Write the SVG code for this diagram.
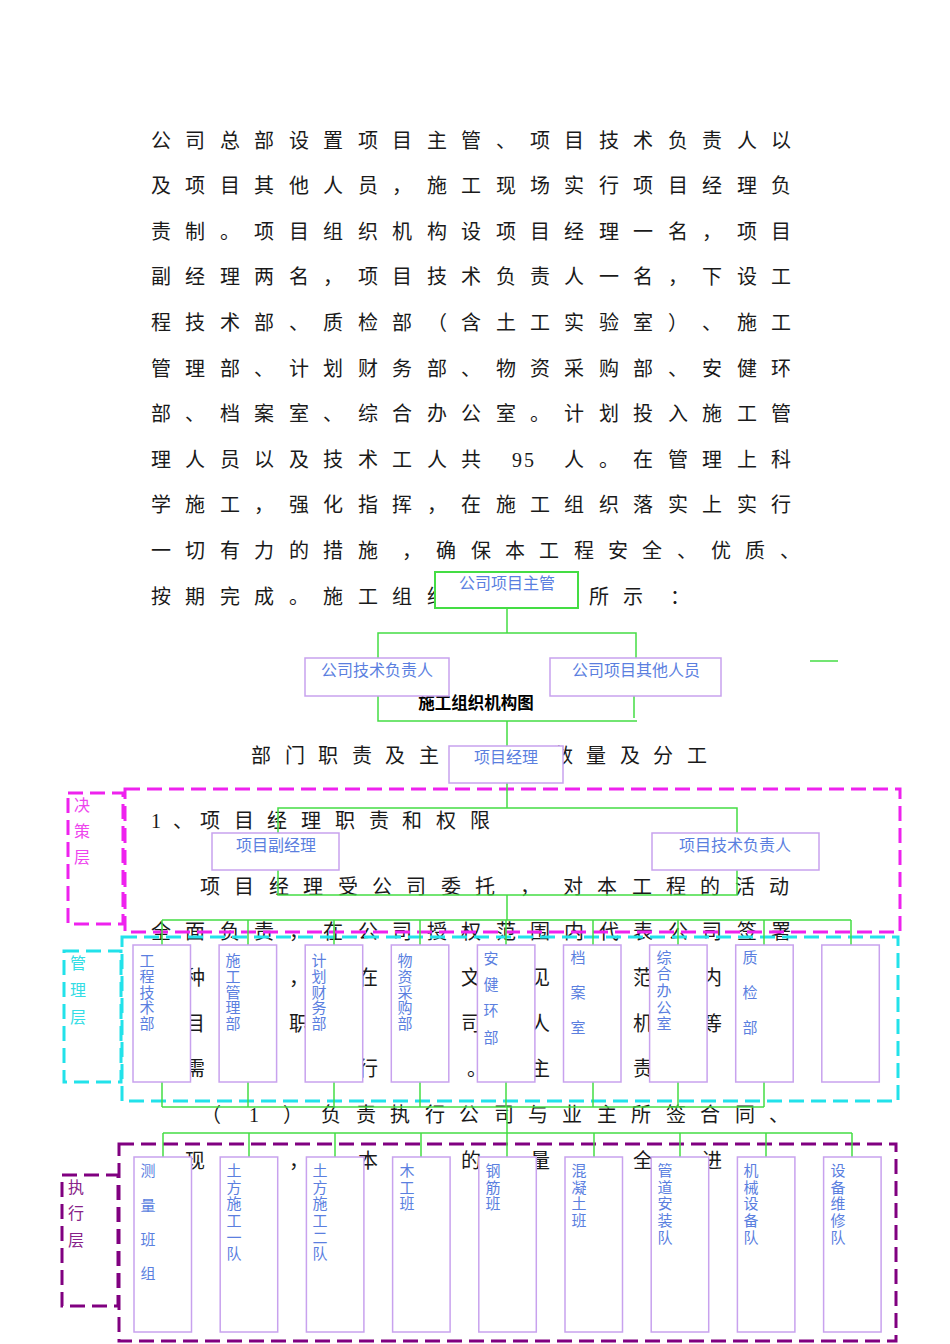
<svg xmlns="http://www.w3.org/2000/svg" width="950" height="1344" viewBox="0 0 950 1344">
<style>
.body{font-family:"Liberation Serif","Noto Sans CJK SC",serif;font-size:20px;fill:#1a1a1a;text-anchor:middle}
.lbl{font-family:"Noto Sans CJK SC",sans-serif;font-size:16px;fill:#5b7fdf;text-anchor:middle}
.vl{font-size:15px}
.title{font-family:"Noto Sans CJK SC",sans-serif;font-size:16.5px;font-weight:bold;fill:#000;text-anchor:middle}
.box{fill:#fff;stroke:#c8a2ee;stroke-width:1.5}
.gbox{fill:#fff;stroke:#44dd44;stroke-width:2}
.conn path{stroke:#44dd44;stroke-width:1.5;fill:none}
.mag{fill:none;stroke:#ee22ee;stroke-width:3;stroke-dasharray:15 7}
.cya{fill:none;stroke:#22e2ea;stroke-width:3;stroke-dasharray:15 7}
.pur{fill:none;stroke:#800080;stroke-width:3;stroke-dasharray:15 7}
.tmag{font-family:"Noto Sans CJK SC",sans-serif;font-size:16px;fill:#ee44ee;text-anchor:middle}
.tcya{font-family:"Noto Sans CJK SC",sans-serif;font-size:16px;fill:#33dde5;text-anchor:middle}
.tpur{font-family:"Noto Sans CJK SC",sans-serif;font-size:16px;fill:#882288;text-anchor:middle}
</style>
<rect width="950" height="1344" fill="#fff"/>

<g id="body-text">
<text class="body" x="161 195 230 264 299 333 368 402 437 471 506 540 574 609 643 678 712 747 781" y="147.5">公司总部设置项目主管、项目技术负责人以</text>
<text class="body" x="161 195 230 264 299 333 368 402 437 471 506 540 574 609 643 678 712 747 781" y="193">及项目其他人员，施工现场实行项目经理负</text>
<text class="body" x="161 195 230 264 299 333 368 402 437 471 506 540 574 609 643 678 712 747 781" y="238.5">责制。项目组织机构设项目经理一名，项目</text>
<text class="body" x="161 195 230 264 299 333 368 402 437 471 506 540 574 609 643 678 712 747 781" y="284">副经理两名，项目技术负责人一名，下设工</text>
<text class="body" x="161 195 230 264 299 333 368 402 437 471 506 540 574 609 643 678 712 747 781" y="330">程技术部、质检部（含土工实验室）、施工</text>
<text class="body" x="161 195 230 264 299 333 368 402 437 471 506 540 574 609 643 678 712 747 781" y="375.5">管理部、计划财务部、物资采购部、安健环</text>
<text class="body" x="161 195 230 264 299 333 368 402 437 471 506 540 574 609 643 678 712 747 781" y="421">部、档案室、综合办公室。计划投入施工管</text>
<text class="body" x="161 195 230 264 299 333 368 402 437 471 517 529 574 609 643 678 712 747 781" y="466.5">理人员以及技术工人共95人。在管理上科</text>
<text class="body" x="161 195 230 264 299 333 368 402 437 471 506 540 574 609 643 678 712 747 781" y="512">学施工，强化指挥，在施工组织落实上实行</text>
<text class="body" x="161 195 230 264 299 333 368 412 446 481 515 549 584 618 652 687 721 755 790" y="558">一切有力的措施，确保本工程安全、优质、</text>
<text class="body" x="161 195 230 264 299 333 368 402 437" y="603.5">按期完成。施工组织</text>
<text class="body" x="599 633 680" y="603.5">所示：</text>
<text class="body" x="261 295 328 362 395 429" y="763">部门职责及主</text>
<text class="body" x="563 596 630 663 697" y="763">数量及分工</text>
<text class="body" x="156 183 210 244 277 311 345 379 412 446 480" y="828">1、项目经理职责和权限</text>
<text class="body" x="210 244 279 313 348 382 416 451 485 530 573 607 642 676 710 745 779" y="894">项目经理受公司委托，对本工程的活动</text>
<text class="body" x="161 195 230 264 299 333 368 402 437 471 506 540 574 609 643 678 712 747 781" y="939">全面负责，在公司授权范围内代表公司签署</text>
<text class="body" x="195" y="985">种</text><text class="body" x="299" y="985">，</text><text class="body" x="368" y="985">在</text><text class="body" x="471" y="985">文</text><text class="body" x="540" y="985">见</text><text class="body" x="643" y="985">范</text><text class="body" x="712" y="985">内</text>
<text class="body" x="195" y="1031">目</text><text class="body" x="299" y="1031">职</text><text class="body" x="471" y="1031">司</text><text class="body" x="540" y="1031">人</text><text class="body" x="643" y="1031">机</text><text class="body" x="712" y="1031">等</text>
<text class="body" x="195" y="1076">需</text><text class="body" x="368" y="1076">行</text><text class="body" x="477" y="1076">。</text><text class="body" x="540" y="1076">主</text><text class="body" x="643" y="1076">责</text>
<text class="body" x="211 254 293 331 366 400 435 469 504 538 572 607 641 676 710 745 779" y="1122">（1）负责执行公司与业主所签合同、</text>
<text class="body" x="195" y="1168">现</text><text class="body" x="299" y="1168">，</text><text class="body" x="368" y="1168">本</text><text class="body" x="471" y="1168">的</text><text class="body" x="540" y="1168">量</text><text class="body" x="643" y="1168">全</text><text class="body" x="712" y="1168">进</text>
</g>

<g id="layers">
<rect class="mag" x="125" y="789" width="775" height="143"/>
<rect class="mag" x="68" y="793" width="55" height="131"/>
<text class="tmag" x="82 82 82" y="811 837 863">决策层</text>
<rect class="cya" x="122" y="937" width="776" height="164"/>
<rect class="cya" x="64" y="951" width="57" height="131"/>
<text class="tcya" x="78 78 78" y="969 996 1023">管理层</text>
<rect class="pur" x="119" y="1144" width="777" height="197"/>
<rect class="pur" x="62" y="1175" width="56" height="131"/>
<text class="tpur" x="76 76 76" y="1193 1219 1246">执行层</text>
</g>

<g id="connectors" class="conn">
<path d="M507 609V633M378 658V633H636V658"/>
<path d="M378 696V721H637M634 696V718M507 721V746"/>
<path d="M810 661H838"/>
<path d="M507 783V808M278 833V808H737V833"/>
<path d="M278 870V895H737V870M507 895V920"/>
<path d="M162 920H851M162 920V945M248 920V945M334 920V945M420 920V945M506 920V945M593 920V945M678 920V945M764 920V945M851 920V945"/>
<path d="M162 1082V1107M248 1082V1107M334 1082V1107M420 1082V1107M506 1082V1107M593 1082V1107M678 1082V1107M764 1082V1107M162 1107H764"/>
<path d="M507 1107V1133M163 1133H852M163 1133V1157M249 1133V1157M335 1133V1157M421 1133V1157M507 1133V1157M594 1133V1157M680 1133V1157M766 1133V1157M852 1133V1157"/>
</g>

<g id="title"><text class="title" x="476" y="709">施工组织机构图</text></g>

<g id="n-company-supervisor"><rect class="gbox" x="435" y="572" width="143" height="36"/><text class="lbl" x="507" y="589">公司项目主管</text></g>
<g id="n-company-tech"><rect class="box" x="305" y="658" width="144" height="38"/><text class="lbl" x="377" y="676">公司技术负责人</text></g>
<g id="n-company-others"><rect class="box" x="550" y="658" width="171" height="38"/><text class="lbl" x="636" y="676">公司项目其他人员</text></g>
<g id="n-pm"><rect class="box" x="449" y="746" width="114" height="37"/><text class="lbl" x="506" y="763">项目经理</text></g>
<g id="n-deputy"><rect class="box" x="212" y="833" width="127" height="37"/><text class="lbl" x="276" y="851">项目副经理</text></g>
<g id="n-tech-lead"><rect class="box" x="652" y="833" width="167" height="37"/><text class="lbl" x="735" y="851">项目技术负责人</text></g>

<g id="m1"><rect class="box" x="133" y="945" width="57.5" height="137"/><text class="lbl vl" x="147 147 147 147 147" y="966 982 998 1013 1029">工程技术部</text></g>
<g id="m2"><rect class="box" x="219.1" y="945" width="57.5" height="137"/><text class="lbl vl" x="233 233 233 233 233" y="966 982 998 1013 1029">施工管理部</text></g>
<g id="m3"><rect class="box" x="305.2" y="945" width="57.5" height="137"/><text class="lbl vl" x="319 319 319 319 319" y="966 982 998 1013 1029">计划财务部</text></g>
<g id="m4"><rect class="box" x="391.3" y="945" width="57.5" height="137"/><text class="lbl vl" x="405 405 405 405 405" y="966 982 998 1013 1029">物资采购部</text></g>
<g id="m5"><rect class="box" x="477.4" y="945" width="57.5" height="137"/><text class="lbl vl" x="491 491 491 491" y="964 990 1016 1043">安健环部</text></g>
<g id="m6"><rect class="box" x="563.5" y="945" width="57.5" height="137"/><text class="lbl vl" x="578 578 578" y="963 998 1033">档案室</text></g>
<g id="m7"><rect class="box" x="649.6" y="945" width="57.5" height="137"/><text class="lbl vl" x="664 664 664 664 664" y="963 979 996 1013 1029">综合办公室</text></g>
<g id="m8"><rect class="box" x="735.7" y="945" width="57.5" height="137"/><text class="lbl vl" x="750 750 750" y="963 998 1033">质检部</text></g>
<g id="m9"><rect class="box" x="821.8" y="945" width="57.5" height="137"/></g>

<g id="e1"><rect class="box" x="134" y="1157" width="57.5" height="175"/><text class="lbl vl" x="148 148 148 148" y="1176 1211 1245 1279">测量班组</text></g>
<g id="e2"><rect class="box" x="220.2" y="1157" width="57.5" height="175"/><text class="lbl vl" x="234 234 234 234 234 234" y="1176 1193 1209 1226 1243 1259">土方施工一队</text></g>
<g id="e3"><rect class="box" x="306.4" y="1157" width="57.5" height="175"/><text class="lbl vl" x="320 320 320 320 320 320" y="1176 1193 1209 1226 1243 1259">土方施工二队</text></g>
<g id="e4"><rect class="box" x="392.6" y="1157" width="57.5" height="175"/><text class="lbl vl" x="407 407 407" y="1176 1193 1209">木工班</text></g>
<g id="e5"><rect class="box" x="478.8" y="1157" width="57.5" height="175"/><text class="lbl vl" x="493 493 493" y="1176 1193 1209">钢筋班</text></g>
<g id="e6"><rect class="box" x="565" y="1157" width="57.5" height="175"/><text class="lbl vl" x="579 579 579 579" y="1176 1193 1209 1226">混凝土班</text></g>
<g id="e7"><rect class="box" x="651.2" y="1157" width="57.5" height="175"/><text class="lbl vl" x="665 665 665 665 665" y="1176 1193 1209 1226 1243">管道安装队</text></g>
<g id="e8"><rect class="box" x="737.4" y="1157" width="57.5" height="175"/><text class="lbl vl" x="751 751 751 751 751" y="1176 1193 1209 1226 1243">机械设备队</text></g>
<g id="e9"><rect class="box" x="823.6" y="1157" width="57.5" height="175"/><text class="lbl vl" x="838 838 838 838 838" y="1176 1193 1209 1226 1243">设备维修队</text></g>
</svg>
